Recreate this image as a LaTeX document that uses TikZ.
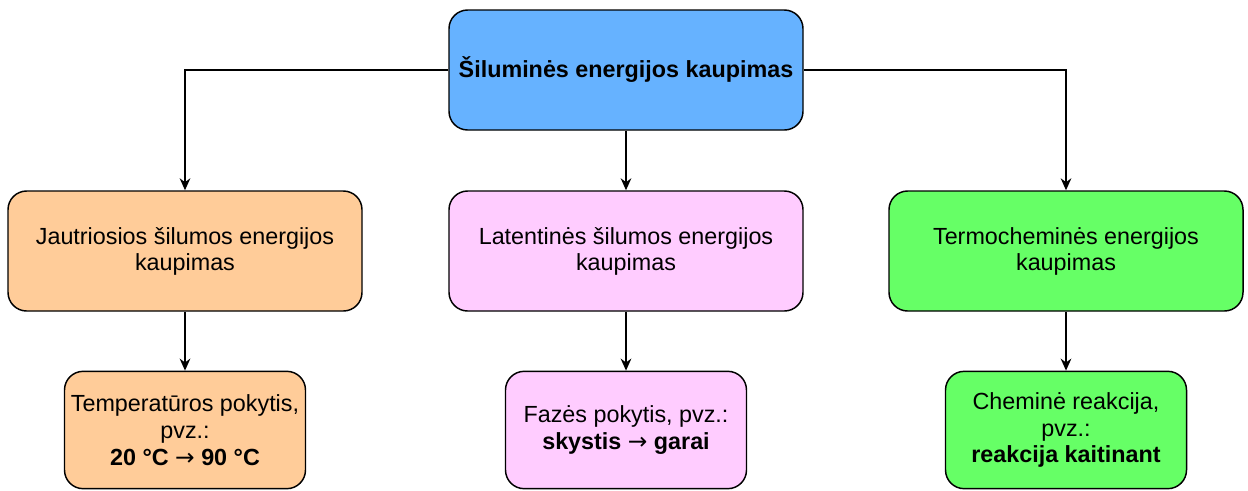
\documentclass[tikz,border=0pt]{standalone}
\usepackage{fontspec}
\setmainfont{Liberation Sans}
\newfontfamily\arrowfont{DejaVu Sans}
\usepackage{tikz}
\usetikzlibrary{arrows.meta, positioning}
\definecolor{topblue}{HTML}{66B2FF}
\definecolor{sensorange}{HTML}{FFCC99}
\definecolor{latpink}{HTML}{FFCCFF}
\definecolor{chemgreen}{HTML}{66FF66}
\newcommand{\toarr}{{\arrowfont\mdseries →}}
\tikzstyle{bigbox}=[rectangle, draw, line width=1.1pt, rounded corners=14pt, minimum width=265.5pt, minimum height=90pt, align=center, font=\fontsize{17.5}{19.5}\selectfont]
\tikzstyle{smallbox}=[rectangle, draw, line width=1.1pt, rounded corners=14pt, minimum width=180.75pt, minimum height=88pt, align=center, font=\fontsize{17.5}{20}\selectfont]
\tikzstyle{arr}=[-{Stealth[length=9pt, width=8pt]}, line width=1.1pt]

\begin{document}
\begin{tikzpicture}[x=0.75pt, y=-0.75pt]
\useasboundingbox (0,0) rectangle (1248,490);

% Top
\node[bigbox, fill=topblue, font=\fontsize{17.5}{19.5}\selectfont\bfseries] (top) at (626,70) {Šiluminės energijos kaupimas};

% Middle row
\node[bigbox, fill=sensorange] (sens) at (185,251) {Jautriosios šilumos energijos\\kaupimas};
\node[bigbox, fill=latpink] (lat) at (626,251) {Latentinės šilumos energijos\\kaupimas};
\node[bigbox, fill=chemgreen] (chem) at (1066,251) {Termocheminės energijos\\kaupimas};

% Bottom row
\node[smallbox, fill=sensorange] (temp) at (185,430) {Temperatūros pokytis,\\pvz.:\\\textbf{20 °C \toarr{} 90 °C}};
\node[smallbox, fill=latpink] (phase) at (626,430) {Fazės pokytis, pvz.:\\\textbf{skystis \toarr{} garai}};
\node[smallbox, fill=chemgreen] (react) at (1066,430) {Cheminė reakcija,\\pvz.:\\\textbf{reakcija kaitinant}};

\draw[arr] (top.west) -| (sens);
\draw[arr] (top) -- (lat);
\draw[arr] (top.east) -| (chem);

\draw[arr] (sens) -- (temp);
\draw[arr] (lat) -- (phase);
\draw[arr] (chem) -- (react);

\end{tikzpicture}
\end{document}
